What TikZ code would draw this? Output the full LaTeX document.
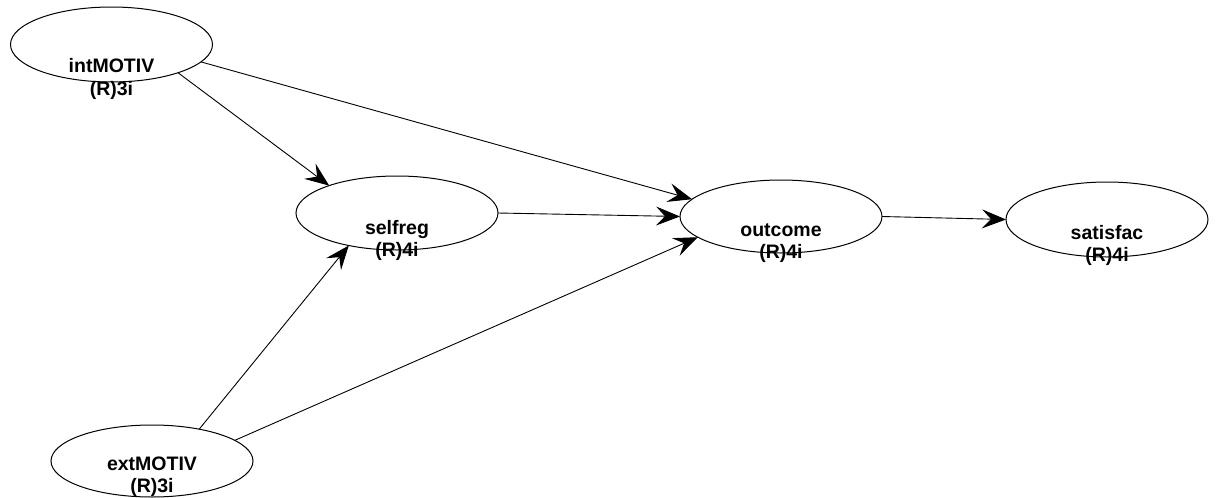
\documentclass[tikz,border=0pt]{standalone}
\usepackage{fontspec}
\setmainfont{Liberation Sans}
\usetikzlibrary{shapes.geometric,arrows.meta}
\begin{document}
\begin{tikzpicture}[x=1pt,y=-1pt,
  lv/.style={draw=black, line width=1pt, ellipse, minimum width=202pt, minimum height=74pt, inner sep=0pt, outer sep=0pt},
  lab/.style={font=\fontsize{19.5}{22}\selectfont\bfseries, inner sep=0pt, anchor=base, text=black},
  link/.style={draw=black, line width=0.9pt, -{Stealth[length=24pt,width=19pt,inset=9pt]}}]
\useasboundingbox (0,0) rectangle (1216,498);
% labels
\node[lab] (intA) at (111.5,72.5) {intMOTIV};
\node[lab] (intB) at (111.5,95) {(R)3i};
\node[lab] (selA) at (397,234.5) {selfreg};
\node[lab] (selB) at (397,256.5) {(R)4i};
\node[lab] (outA) at (781,236.5) {outcome};
\node[lab] (outB) at (781,258.5) {(R)4i};
\node[lab] (satA) at (1107,239) {satisfac};
\node[lab] (satB) at (1107,261.5) {(R)4i};
\node[lab] (extA) at (152,470) {extMOTIV};
\node[lab] (extB) at (152,492) {(R)3i};
% ellipses
\node[lv, minimum height=75pt] (int) at (111.5,44.5) {};
\node[lv] (sel) at (397,213) {};
\node[lv, minimum height=73pt] (out) at (781,216.5) {};
\node[lv, minimum height=75pt] (sat) at (1107,219.5) {};
\node[lv, minimum height=72pt] (ext) at (152,461) {};
% paths
\draw[link] (int.-23.3) -- (sel.158.6);
\draw[link] (int.-11.4) -- (out.169.1);
\draw[link] (sel.0) -- (out.180);
\draw[link] (out.0) -- (sat.180);
\draw[link] (ext.34.5) -- (sel.214.8);
\draw[link] (ext.14.8) -- (out.194.7);
\end{tikzpicture}
\end{document}
